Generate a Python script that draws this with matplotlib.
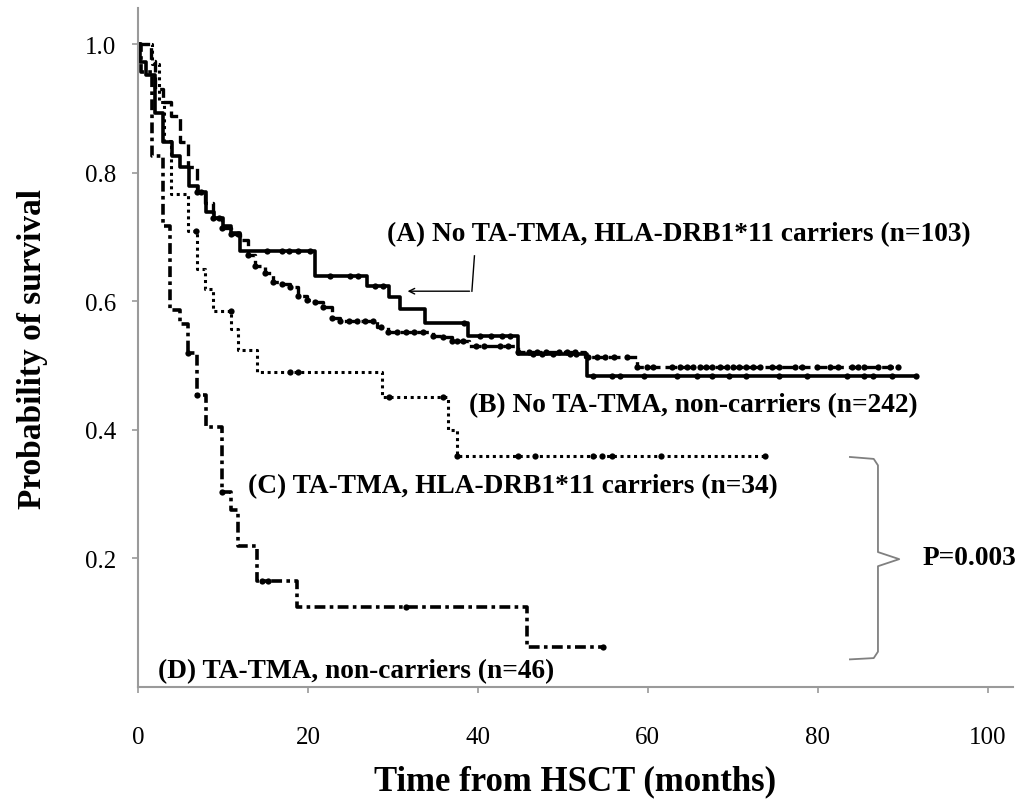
import numpy as np
import matplotlib.pyplot as plt

plt.rcParams['font.family'] = ['Liberation Serif', 'DejaVu Serif']

# Kaplan-Meier curves (months, survival after each drop)
a_times = [0, 0.2, 0.9, 2.0, 2.9, 4.0, 4.9, 6.0, 7.0, 8.0, 9.0, 10.0, 11.0, 12.0,
           20.8, 27.0, 29.6, 30.8, 33.8, 38.8, 44.7, 52.8]
a_surv = [1.0, 0.972, 0.953, 0.894, 0.848, 0.826, 0.809, 0.779, 0.770, 0.740, 0.730,
          0.718, 0.706, 0.679, 0.639, 0.624, 0.607, 0.588, 0.567, 0.546, 0.518, 0.484]
a_end = 91.6
a_cens = [15.2, 16.9, 17.8, 18.8, 20.2, 22.6, 24.9, 25.9, 27.9, 28.8, 38.4, 40.2,
          41.6, 42.8, 43.8, 46.5, 47.6, 48.8, 50.8, 51.6, 53.5, 55.8, 56.7, 59.6,
          63.5, 65.8, 67.6, 69.6, 71.6, 75.5, 78.7, 83.5, 85.5, 86.5, 88.7, 91.6]

b_times = [0, 1.5, 2.0, 2.9, 3.9, 4.9, 5.9, 6.9, 7.9, 8.8, 9.9, 11.0, 12.0, 13.0,
           13.8, 14.9, 15.9, 17.0, 17.9, 18.8, 19.9, 20.8, 21.8, 22.8, 23.8, 28.1,
           29.4, 34.7, 35.9, 36.9, 39.0, 44.7, 52.6, 58.7]
b_surv = [1.0, 0.975, 0.93, 0.911, 0.888, 0.848, 0.81, 0.77, 0.754, 0.73, 0.715,
          0.705, 0.695, 0.673, 0.655, 0.645, 0.631, 0.627, 0.622, 0.608, 0.603,
          0.599, 0.591, 0.575, 0.569, 0.561, 0.552, 0.546, 0.544, 0.538, 0.530,
          0.521, 0.513, 0.498]
b_end = 89.4
b_cens = [6.9, 7.4, 8.8, 9.5, 9.9, 11.0, 11.8, 13.0, 13.8, 14.9, 15.9, 17.0, 17.9,
          18.8, 19.9, 20.8, 21.8, 22.8, 23.8, 24.8, 25.8, 26.7, 27.6, 28.6, 29.4,
          30.5, 31.5, 32.5, 33.5, 34.7, 35.9, 36.9, 37.6, 38.2, 39.8, 40.7, 42.6,
          43.6, 44.7, 46.0, 47.0, 48.0, 49.5, 50.5, 51.4, 53.0, 54.0, 55.0, 56.0,
          57.6, 58.7, 59.9, 60.6, 62.9, 63.8, 64.6, 65.3, 66.1, 66.9, 67.6, 68.5,
          69.3, 70.0, 70.8, 71.6, 72.4, 73.2, 74.6, 75.5, 77.3, 78.2, 79.9, 81.4,
          82.4, 84.0, 84.7, 85.5, 87.1, 88.5, 89.4]

c_times = [0, 1.6, 2.5, 3.0, 3.9, 5.9, 6.9, 7.9, 8.8, 11.0, 11.8, 14.0, 28.7, 36.5, 37.6]
c_surv = [1.0, 0.97, 0.91, 0.85, 0.767, 0.71, 0.65, 0.62, 0.585, 0.557, 0.524,
          0.49, 0.451, 0.40, 0.36]
c_end = 73.8
c_cens = [6.8, 10.9, 17.9, 18.8, 29.6, 35.9, 37.6, 44.7, 46.7, 53.5, 54.6, 55.8,
          61.6, 73.8]

d_times = [0, 0.4, 1.7, 2.9, 3.8, 4.9, 5.9, 6.9, 8.0, 9.9, 10.9, 11.8, 14.0, 18.7, 45.8]
d_surv = [1.0, 0.957, 0.826, 0.717, 0.587, 0.565, 0.52, 0.455, 0.404, 0.303, 0.275,
          0.219, 0.165, 0.124, 0.062]
d_end = 54.7
d_cens = [5.9, 6.9, 9.9, 14.6, 15.3, 31.6, 54.7]


def km(ax, t, s, end, cens, ls, lw):
    t = np.array(t)
    s = np.array(s)
    ax.step(np.append(t, end), np.append(s, s[-1]), where='post',
            color='black', lw=lw, linestyle=ls, solid_capstyle='butt')
    idx = np.searchsorted(t, cens, side='right') - 1
    ax.plot(cens, s[idx], 'o', color='black', ms=4.5, mew=0)


fig = plt.figure(figsize=(10.21, 8.03), dpi=100)
ax = fig.add_axes([0.1352, 0.1432, 0.857, 0.845])

km(ax, b_times, b_surv, b_end, b_cens, (0, (3.5, 1.5)), 2.4)
km(ax, c_times, c_surv, c_end, c_cens, (0, (1, 1.2)), 2.2)
km(ax, d_times, d_surv, d_end, d_cens, (0, (3, 1.2, 1, 1.2)), 2.6)
km(ax, a_times, a_surv, a_end, a_cens, '-', 2.6)

ax.set_xlim(0, 103)
ax.set_ylim(0, 1.056)
ax.set_xticks([0, 20, 40, 60, 80, 100])
ax.set_yticks([0.2, 0.4, 0.6, 0.8, 1.0])
ax.set_yticklabels(['0.2', '0.4', '0.6', '0.8', '1.0'])
for side in ['top', 'right']:
    ax.spines[side].set_visible(False)
for side in ['left', 'bottom']:
    ax.spines[side].set_color('#9a9a9a')
    ax.spines[side].set_linewidth(1.5)
ax.tick_params(axis='both', colors='#9a9a9a', length=4, width=1.2, labelcolor='black',
               labelsize=18)
ax.tick_params(axis='y', pad=12)
ax.tick_params(axis='x', pad=24)

ax.set_xlabel('Time from HSCT (months)', fontsize=25, fontweight='bold', labelpad=12)
ax.set_ylabel('Probability of survival', fontsize=24, fontweight='bold', labelpad=26)

lab = dict(fontsize=19.7, fontweight='bold', va='center', ha='left')
ax.text(29.3, 0.705, '(A) No TA-TMA, HLA-DRB1*11 carriers (n=103)', **lab)
ax.text(39.0, 0.44, '(B) No TA-TMA, non-carriers (n=242)', **lab)
ax.text(12.9, 0.313, '(C) TA-TMA, HLA-DRB1*11 carriers (n=34)', **lab)
ax.text(2.4, 0.025, '(D) TA-TMA, non-carriers (n=46)', **lab)
ax.text(92.4, 0.202, 'P=0.003', **lab)

# pointer for curve A
ax.plot([39.6, 39.3], [0.671, 0.616], color='black', lw=1)
ax.annotate('', xy=(31.4, 0.616), xytext=(39.35, 0.616),
            arrowprops=dict(arrowstyle='->', color='black', lw=1))

# brace
bx = [83.8, 86.6, 87.1, 87.1, 89.6, 87.1, 87.1, 86.6, 83.8]
by = [0.358, 0.355, 0.345, 0.21, 0.199, 0.188, 0.055, 0.045, 0.043]
ax.plot(bx, by, color='#808080', lw=1.3)

fig.savefig('out.png', dpi=100)
